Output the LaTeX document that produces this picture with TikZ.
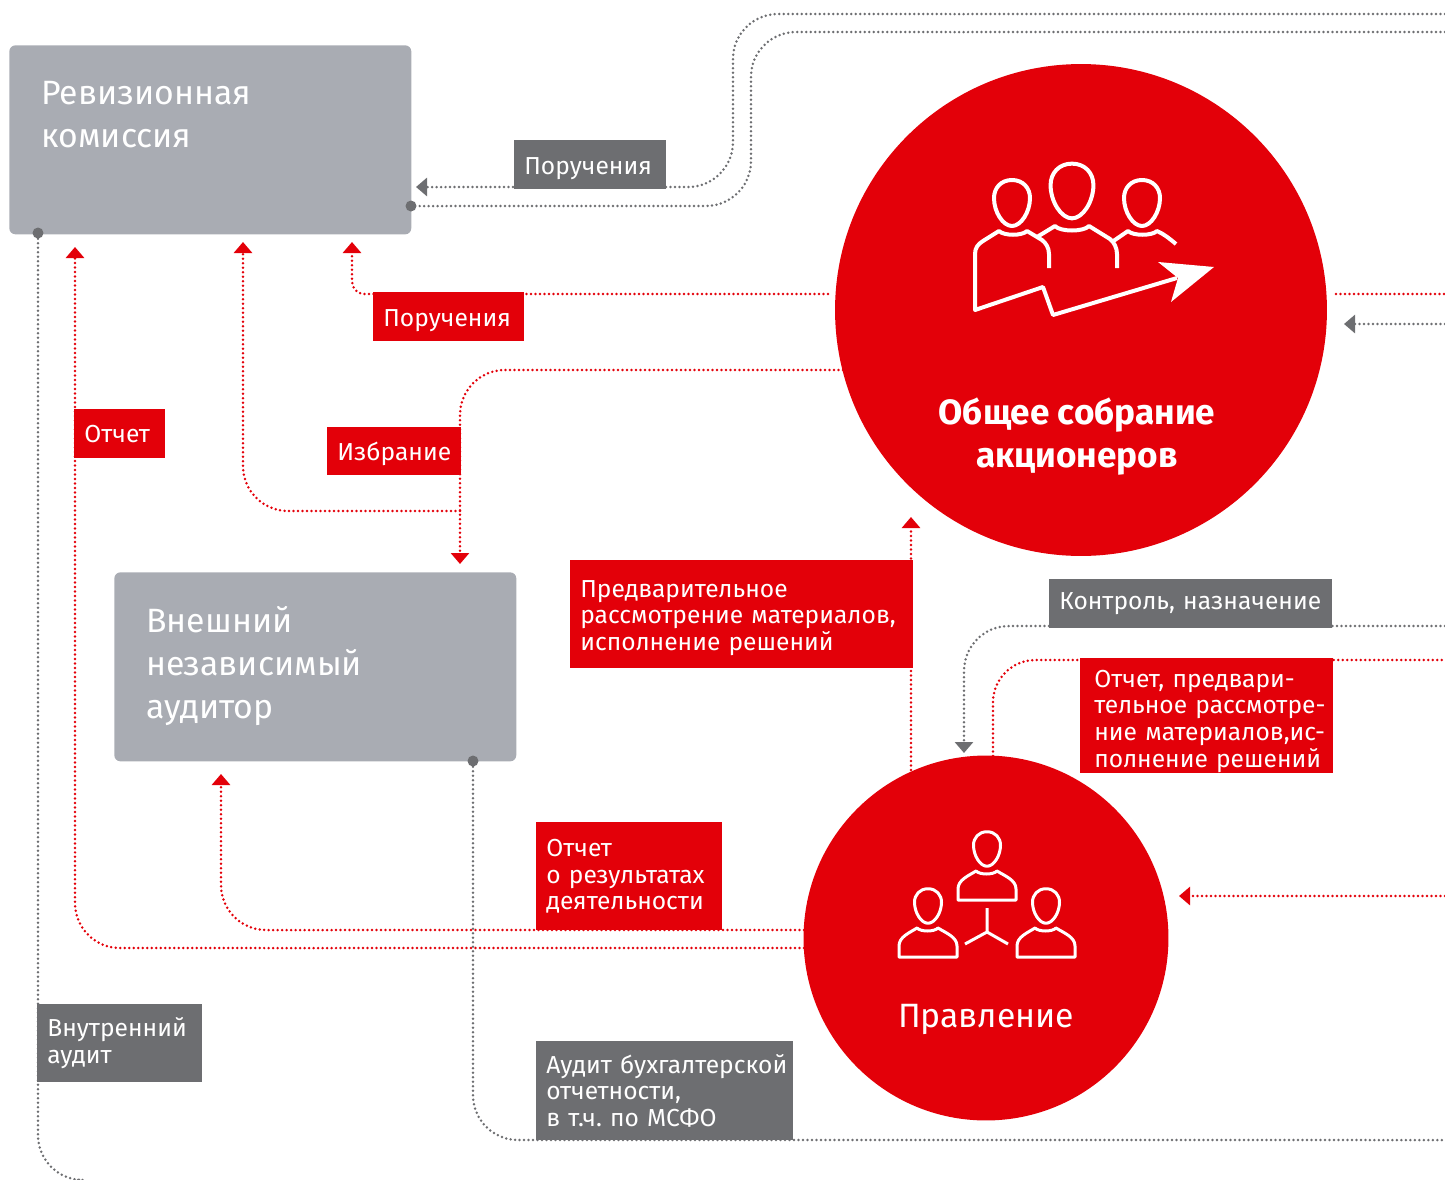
\documentclass[tikz,border=0pt]{standalone}
\usepackage{fontspec}
\setmainfont{Fira Sans}
\frenchspacing
\usetikzlibrary{arrows.meta}
\definecolor{mtsred}{HTML}{E30009}
\definecolor{boxgray}{HTML}{A9ACB3}
\definecolor{labgray}{HTML}{6D6E71}
\tikzset{
	dotline/.style={line width=0.055cm, line cap=round, dash pattern=on 0pt off 0.09cm},
	redline/.style={dotline, draw=mtsred},
	grayline/.style={dotline, draw=labgray},
	redtip/.style={-{Triangle[width=0.36cm,length=0.22cm,fill=mtsred]}},
	graytip/.style={-{Triangle[width=0.36cm,length=0.22cm,fill=labgray]}},
	mainbox/.style={fill=boxgray, rounded corners=0.12cm, inner sep=0, anchor=north west, minimum width=8.04cm, minimum height=3.78cm},
	boxtext/.style={text=white, anchor=north west, align=left, inner sep=0, font=\fontsize{19.2}{24.5}\selectfont},
	bigcircle/.style={circle, fill=mtsred, inner sep=0},
	lab/.style={text=white, anchor=north west, align=left, inner xsep=0.2cm, inner ysep=0, font=\fontsize{14}{15.1}\selectfont},
	redlab/.style={lab, fill=mtsred},
	graylab/.style={lab, fill=labgray},
	iconline/.style={draw=white, line join=round},
	dotend/.style={circle, fill=labgray, inner sep=0, minimum size=0.22cm}
}
\begin{document}
\begin{tikzpicture}[x=0.02cm, y=-0.02cm]
	\useasboundingbox (0,0) rectangle (1445,1180);
	
	% boxes and circles
	\node[mainbox] (revbox) at (9,45) {};
	\node[mainbox] (audbox) at (114,572) {};
	\node[bigcircle, minimum size=9.84cm] (meeting) at (1081,310) {};
	\node[bigcircle, minimum size=7.3cm] (board) at (986,938) {};
	
	\node[boxtext] (revtext) at (41,81) {Ревизионная\\комиссия};
	\node[boxtext] (audtext) at (146,606) {Внешний\\независимый\\аудитор};
	\node[text=white, align=center, font=\fontsize{20}{24.5}\bfseries\selectfont] (meettext) at (1077,437) {Общее собрание\\акционеров};
	\node[text=white, font=\fontsize{19.2}{24.5}\selectfont] (boardtext) at (986,1019) {Правление};
	
	% free ends
	\coordinate (e1) at (1445,14);
	\coordinate (e2) at (1445,32);
	\coordinate (e3) at (1445,294);
	\coordinate (e4) at (1445,324);
	\coordinate (e5) at (1445,626);
	\coordinate (e6) at (1445,660);
	\coordinate (e7) at (1445,896);
	\coordinate (e8) at (1445,1140);
	\coordinate (e9) at (78,1180);
	\coordinate (t1) at (416,187);
	\coordinate (t2) at (352,242);
	\coordinate (t3) at (243,242);
	\coordinate (t4) at (75,247);
	\coordinate (t5) at (460,564);
	\coordinate (t6) at (221,774);
	\coordinate (t7) at (911,517);
	\coordinate (t8) at (964,753);
	\coordinate (t9) at (1344,324);
	\coordinate (t10) at (1179,896);
	\coordinate (s1) at (828,294);
	\coordinate (s2) at (1336,294);
	\coordinate (s3) at (843,370);
	\coordinate (s4) at (804,930);
	\coordinate (s5) at (804,948);
	\coordinate (s6) at (911,770);
	\coordinate (s7) at (993,756);
	\coordinate (s8) at (460,511);
	\node[dotend] (d1) at (411,206) {};
	\node[dotend] (d2) at (38,233) {};
	\node[dotend] (d3) at (473,761) {};
	
	% gray connectors
	\draw[grayline, graytip, rounded corners=0.9cm] (e1) -- (733,14) -- (733,187) -- (t1);
	\draw[grayline, rounded corners=0.9cm] (e2) -- (751,32) -- (751,206) -- (d1);
	\draw[grayline, rounded corners=0.9cm] (d2) -- (38,1180) -- (e9);
	\draw[grayline, rounded corners=0.9cm] (d3) -- (473,1140) -- (e8);
	\draw[grayline, graytip] (e4) -- (t9);
	\draw[grayline, graytip, rounded corners=0.9cm] (e5) -- (964,626) -- (t8);
	
	% red connectors
	\draw[redline, redtip, rounded corners=0.25cm] (s1) -- (352,294) -- (t2);
	\draw[redline] (s2) -- (e3);
	\draw[redline, redtip, rounded corners=0.9cm] (s3) -- (460,370) -- (t5);
	\draw[redline, redtip, rounded corners=0.9cm] (s8) -- (243,511) -- (t3);
	\draw[redline, redtip, rounded corners=0.9cm] (s5) -- (75,948) -- (t4);
	\draw[redline, redtip, rounded corners=0.9cm] (s4) -- (221,930) -- (t6);
	\draw[redline, redtip] (s6) -- (t7);
	\draw[redline, rounded corners=0.85cm] (s7) -- (993,660) -- (e6);
	\draw[redline, redtip] (e7) -- (t10);
	
	% labels
	\node[graylab, text height=0.5cm, minimum height=0.98cm, text width=2.64cm] (l1) at (514,140) {Поручения};
	\node[redlab, text height=0.48cm, minimum height=0.98cm, text width=2.62cm] (l2) at (373,292) {Поручения};
	\node[redlab, text height=0.46cm, minimum height=0.96cm, text width=2.28cm] (l3) at (327,427) {Избрание};
	\node[redlab, minimum height=0.98cm, text width=1.42cm] (l4) at (74,409) {Отчет};
	\node[redlab, text height=0.48cm, minimum height=2.16cm, text width=6.46cm] (l5) at (570,560) {Предварительное\\\mbox{рассмотрение материалов,}\\исполнение решений};
	\node[graylab, minimum height=0.98cm, text width=5.26cm] (l6) at (1049,579) {\mbox{Контроль, назначение}};
	\node[redlab, text height=0.56cm, minimum height=2.3cm, inner xsep=0.28cm, text width=4.5cm] (l7) at (1080,658) {\mbox{Отчет, предвари-}\\\mbox{тельное рассмотре-}\\\mbox{ние материалов,ис-}\\\mbox{полнение решений}};
	\node[redlab, minimum height=2.16cm, text width=3.32cm] (l8) at (536,822) {Отчет\\\mbox{о результатах}\\деятельности};
	\node[graylab, minimum height=1.56cm, text width=2.9cm] (l9) at (37,1004) {Внутренний\\аудит};
	\node[graylab, minimum height=1.98cm, text width=4.74cm] (l10) at (536,1041) {\mbox{Аудит бухгалтерской}\\отчетности,\\\mbox{в т.ч. по МСФО}};
	
	% meeting icon
	\foreach \hx/\hy/\hs in {1012/203/1, 1072/191/1.19, 1142/203/1}
		\draw[iconline, line width=0.08cm, shift={(\hx,\hy)}, scale=\hs] (0,-23) .. controls (11,-23) and (18,-15) .. (18,-5) .. controls (18,9) and (9,23) .. (0,23) .. controls (-9,23) and (-18,9) .. (-18,-5) .. controls (-18,-15) and (-11,-23) .. (0,-23) -- cycle;
	\draw[iconline, line width=0.08cm] (1049,268) -- (1049,254) .. controls (1049,248) and (1046,243) .. (1042,240) -- (1027,231) .. controls (1022,236) and (1004,236) .. (999,231) -- (983,241) .. controls (978,244) and (975,248) .. (975,254) -- (975,310) -- (1043,287) -- (1053,315) -- (1177,278);
	\draw[iconline, line width=0.08cm] (1037,237) -- (1055,226) .. controls (1060,232) and (1084,232) .. (1089,226) -- (1110,239) .. controls (1114,242) and (1117,248) .. (1117,254) -- (1117,268);
	\draw[iconline, line width=0.08cm] (1112,242) -- (1128,231) .. controls (1133,236) and (1152,236) .. (1157,231) .. controls (1164,234) and (1170,239) .. (1176,244);
	\fill[white] (1158,262) -- (1214,267) -- (1171,302) -- (1178,278) -- cycle;
	
	% board icon
	\foreach \hx/\hy in {987/849, 928/906, 1046/906}
		\draw[iconline, line width=0.06cm, shift={(\hx,\hy)}, scale=0.75] (0,-23) .. controls (11,-23) and (18,-15) .. (18,-5) .. controls (18,9) and (9,23) .. (0,23) .. controls (-9,23) and (-18,9) .. (-18,-5) .. controls (-18,-15) and (-11,-23) .. (0,-23) -- cycle;
	\foreach \bx/\by in {0/0, -59/57, 59/57}
		\draw[iconline, line width=0.06cm, shift={(\bx,\by)}] (958,900) -- (958,889) .. controls (958,880) and (968,876) .. (976,871) .. controls (980,875) and (993,875) .. (997,871) .. controls (1005,876) and (1016,880) .. (1016,889) -- (1016,900) -- cycle;
	\draw[iconline, line width=0.06cm] (987,908) -- (987,932) -- (965,944);
	\draw[iconline, line width=0.06cm] (987,932) -- (1008,944);
\end{tikzpicture}
\end{document}
